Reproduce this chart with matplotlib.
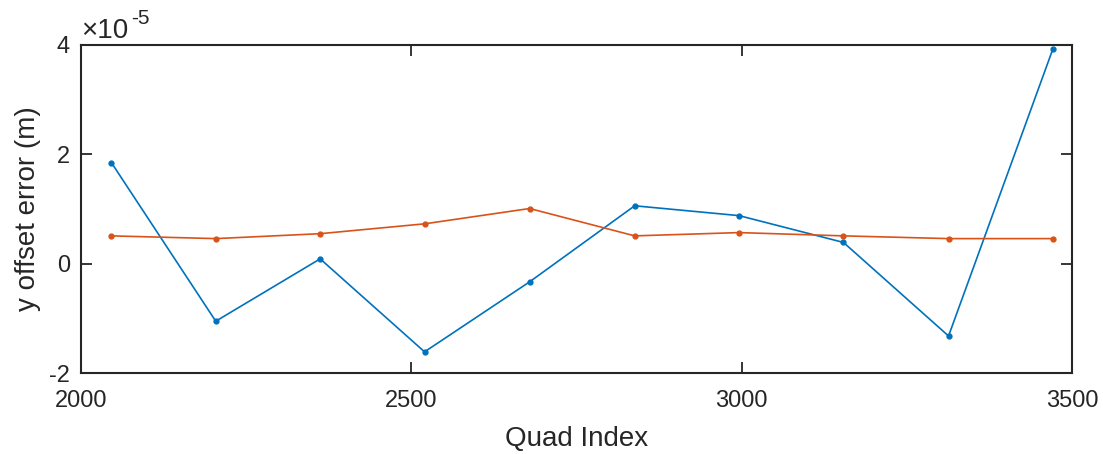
import matplotlib.pyplot as plt
import matplotlib.ticker as mticker

plt.rcParams['font.family'] = ['Liberation Sans', 'DejaVu Sans']
plt.rcParams['axes.unicode_minus'] = False

# quad indices and offset errors (m)
quad_idx = [2046, 2204, 2362, 2520, 2679, 2838, 2996, 3154, 3313, 3471]
err_blue = [1.85e-5, -1.05e-5, 0.09e-5, -1.61e-5, -0.33e-5,
            1.06e-5, 0.88e-5, 0.39e-5, -1.32e-5, 3.93e-5]
err_orange = [0.51e-5, 0.46e-5, 0.55e-5, 0.73e-5, 1.01e-5,
              0.51e-5, 0.57e-5, 0.51e-5, 0.46e-5, 0.46e-5]

fig = plt.figure(figsize=(11.03, 4.54), dpi=100)
ax = fig.add_axes([0.0734, 0.178, 0.8986, 0.723])

ax.plot(quad_idx, err_blue, color='#0072BD', lw=1.2, marker='.', ms=7)
ax.plot(quad_idx, err_orange, color='#D95319', lw=1.2, marker='.', ms=7)

ax.set_xlim(2000, 3500)
ax.set_ylim(-2e-5, 4e-5)
ax.set_xticks([2000, 2500, 3000, 3500])
ax.set_yticks([-2e-5, 0, 2e-5, 4e-5])
# matlab style: tick labels in units of 1e-5, exponent written above axis
ax.yaxis.set_major_formatter(mticker.FuncFormatter(lambda v, p: '%g' % round(v * 1e5, 6)))

for s in ax.spines.values():
    s.set_color('#262626')
    s.set_linewidth(1.5)
ax.tick_params(direction='in', length=8, width=1.3, colors='#262626',
               labelsize=17, top=True, right=True)
ax.tick_params(axis='x', pad=12)
ax.tick_params(axis='y', pad=8)

ax.text(0.0, 1.02, '\u00d710', transform=ax.transAxes, fontsize=20,
        color='#262626', ha='left', va='baseline')
ax.text(0.0505, 1.065, '-5', transform=ax.transAxes, fontsize=15,
        color='#262626', ha='left', va='baseline')

ax.set_xlabel('Quad Index', fontsize=20, color='#262626', labelpad=10)
ax.set_ylabel('y offset error (m)', fontsize=20, color='#262626', labelpad=6)

fig.savefig('out.png', dpi=100)
